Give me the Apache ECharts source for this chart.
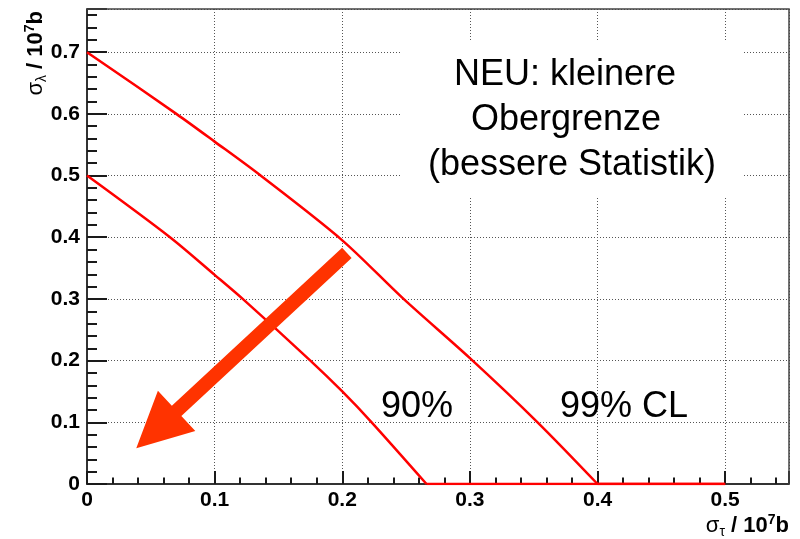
<!DOCTYPE html>
<html><head><meta charset="utf-8">
<script src="https://cdn.jsdelivr.net/npm/echarts@6/dist/echarts.min.js"></script>
<style>html,body{margin:0;padding:0;background:#fff}#c{width:800px;height:539px}</style>
</head><body><div id="c"></div>
<script>
// 99% CL contour (sigma_tau, sigma_lambda)
const cl99X = [0, 0.07, 0.1, 0.136, 0.2, 0.248, 0.3, 0.353, 0.4, 0.5];
const cl99Y = [0.7, 0.6, 0.555, 0.5, 0.395, 0.3, 0.204, 0.1, 0, 0];
// 90% CL contour
const cl90X = [0, 0.065, 0.1, 0.122, 0.175, 0.2, 0.223, 0.266, 0.5];
const cl90Y = [0.5, 0.4, 0.339, 0.3, 0.2, 0.15, 0.1, 0, 0];
const curveLabels = ['90%', '99% CL'];
const noteLines = ['NEU: kleinere', 'Obergrenze', '(bessere Statistik)'];
const arrowTail = [0.2036, 0.3745];
const arrowTip = [0.0386, 0.058];

const FONT = "'Liberation Sans', Arial, Helvetica, sans-serif";
const toPairs = (xs, ys) => xs.map((x, i) => [x, ys[i]]);
const fmt = v => (v === 0 ? '0' : v.toFixed(1));
// split a contour into its sloped part and the part along the floor (y = 0)
function splitCurve(xs, ys) {
  const p = toPairs(xs, ys);
  const k = ys.indexOf(0);
  return [p.slice(0, k + 1), p.slice(k)];
}
const c99 = splitCurve(cl99X, cl99Y);
const c90 = splitCurve(cl90X, cl90Y);

const chart = echarts.init(document.getElementById('c'));
const TICK = '#1a1a1a';
const frameLine = {show: true, onZero: false, lineStyle: {color: '#333', width: 2}};
const labelStyle = {formatter: fmt, showMaxLabel: false, color: '#000', fontFamily: FONT, fontWeight: 'bold', fontSize: 21};
const splitLine = {show: true, lineStyle: {color: '#555', width: 1, type: [1, 2]}};
chart.setOption({
  animation: false,
  backgroundColor: '#fff',
  grid: {left: 87, right: 11, top: 9, bottom: 55},
  xAxis: [{
    type: 'value', min: 0, max: 0.55, interval: 0.1,
    axisLine: frameLine, splitLine,
    axisTick: {show: true, inside: true, length: 13, lineStyle: {color: TICK, width: 2}},
    minorTick: {show: true, splitNumber: 5, length: 6.5, lineStyle: {color: TICK, width: 2}},
    axisLabel: Object.assign({}, labelStyle, {margin: 6})
  }],
  yAxis: [{
    type: 'value', min: 0, max: 0.77, interval: 0.1,
    axisLine: frameLine, splitLine,
    axisTick: {show: true, inside: true, length: 20, lineStyle: {color: TICK, width: 2}},
    minorTick: {show: true, splitNumber: 5, length: 10, lineStyle: {color: TICK, width: 2}},
    axisLabel: Object.assign({}, labelStyle, {margin: 7})
  }],
  series: [
    {type: 'line', name: '99% CL', data: c99[0], smooth: 0.3, symbol: 'none', z: 5, lineStyle: {color: '#ff0000', width: 2.5}},
    {type: 'line', name: '99% CL floor', data: c99[1], symbol: 'none', z: 5, lineStyle: {color: '#ff0000', width: 2.5}},
    {type: 'line', name: '90%', data: c90[0], smooth: 0.3, symbol: 'none', z: 5, lineStyle: {color: '#ff0000', width: 2.5}},
    {type: 'line', name: '90% floor', data: c90[1], symbol: 'none', z: 5, lineStyle: {color: '#ff0000', width: 2.5}}
  ]
});

function arrowPoints(t, h, shaftW, headW, headL) {
  const dx = h[0] - t[0], dy = h[1] - t[1];
  const L = Math.hypot(dx, dy);
  const ux = dx / L, uy = dy / L, nx = -uy, ny = ux;
  const bx = h[0] - ux * headL, by = h[1] - uy * headL;
  return [
    [t[0] + nx * shaftW / 2, t[1] + ny * shaftW / 2],
    [bx + nx * shaftW / 2, by + ny * shaftW / 2],
    [bx + nx * headW / 2, by + ny * headW / 2],
    [h[0], h[1]],
    [bx - nx * headW / 2, by - ny * headW / 2],
    [bx - nx * shaftW / 2, by - ny * shaftW / 2],
    [t[0] - nx * shaftW / 2, t[1] - ny * shaftW / 2]
  ];
}
const tailPx = chart.convertToPixel({gridIndex: 0}, arrowTail);
const tipPx = chart.convertToPixel({gridIndex: 0}, arrowTip);
const rect = chart.getModel().getComponent('grid', 0).coordinateSystem.getRect();

const bigText = {fill: '#000', font: '36px ' + FONT, verticalAlign: 'middle'};
const titleRich = {
  s: {fontFamily: FONT, fontSize: 22, lineHeight: 26, fill: '#000'},
  sub: {fontFamily: FONT, fontSize: 14, lineHeight: 12, verticalAlign: 'bottom', fill: '#000'},
  b: {fontFamily: FONT, fontSize: 22, fontWeight: 'bold', lineHeight: 26, fill: '#000'},
  sup: {fontFamily: FONT, fontSize: 14, fontWeight: 'bold', lineHeight: 16, verticalAlign: 'top', fill: '#000'}
};
chart.setOption({
  graphic: [
    // top and right sides of the frame
    {type: 'polyline', z: 45, shape: {points: [[rect.x, rect.y], [rect.x + rect.width, rect.y], [rect.x + rect.width, rect.y + rect.height]]},
     style: {stroke: '#444', lineWidth: 1.5, fill: null}},
    {type: 'rect', z: 50, shape: {x: 402, y: 40, width: 340, height: 156}, style: {fill: '#fff'}},
    {type: 'text', z: 60, x: 565, y: 75, style: Object.assign({}, bigText, {text: noteLines[0], align: 'center'})},
    {type: 'text', z: 60, x: 566, y: 120, style: Object.assign({}, bigText, {text: noteLines[1], align: 'center'})},
    {type: 'text', z: 60, x: 572, y: 165, style: Object.assign({}, bigText, {text: noteLines[2], align: 'center'})},
    {type: 'text', z: 60, x: 381, y: 407, style: Object.assign({}, bigText, {text: curveLabels[0], align: 'left'})},
    {type: 'text', z: 60, x: 560, y: 407, style: Object.assign({}, bigText, {text: curveLabels[1], align: 'left'})},
    {type: 'polygon', z: 40, shape: {points: arrowPoints(tailPx, tipPx, 14, 55, 55)}, style: {fill: '#ff3300'}},
    {type: 'text', z: 60, x: 36, y: 11, rotation: Math.PI / 2,
     style: {text: '{s|σ}{sub|λ}{b| / 10}{sup|7}{b|b}', align: 'right', verticalAlign: 'middle', fill: '#000', rich: titleRich}},
    {type: 'text', z: 60, x: 789, y: 526,
     style: {text: '{s|σ}{sub|τ}{b| / 10}{sup|7}{b|b}', align: 'right', verticalAlign: 'middle', fill: '#000', rich: titleRich}}
  ]
});
</script>
</body></html>
